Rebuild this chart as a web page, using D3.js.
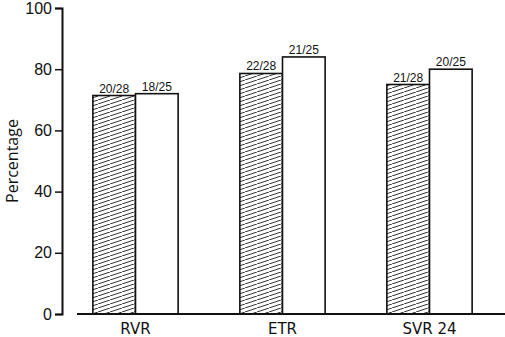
<!DOCTYPE html>
<html>
<head>
<meta charset="utf-8">
<script src="https://cdn.jsdelivr.net/npm/d3@7"></script>
<style>
  body { margin: 0; background: #fff; }
</style>
</head>
<body>
<div id="root"></div>
<script>
const categories = ["RVR", "ETR", "SVR 24"];
const groups = ["A", "B"];
const percentA = [71.4, 78.6, 75];
const percentB = [72, 84, 80];
const labelsA = ["20/28", "22/28", "21/28"];
const labelsB = ["18/25", "21/25", "20/25"];
const yTicks = [0, 20, 40, 60, 80, 100];

const width = 505, height = 337;

const svg = d3.select("#root").append("svg")
    .attr("width", width)
    .attr("height", height);

const defs = svg.append("defs");
const pat = defs.append("pattern")
    .attr("id", "hatch")
    .attr("patternUnits", "userSpaceOnUse")
    .attr("width", 12)
    .attr("height", 4);
pat.append("rect").attr("width", 12).attr("height", 4).attr("fill", "#fff");
pat.append("path")
    .attr("d", "M0,4 L12,0 M-12,4 L0,0 M12,4 L24,0")
    .attr("stroke", "#333")
    .attr("stroke-width", 1);

const x0 = d3.scaleBand().domain(categories).range([62, 503]).padding(0);
const x1 = d3.scaleBand().domain(groups)
    .range([x0.bandwidth() * 0.21, x0.bandwidth() * 0.79]).padding(0);
const y = d3.scaleLinear().domain([0, 100]).range([314, 8]);

const rows = categories.map((c, i) => ({
    cat: c,
    bars: [
        { g: "A", v: percentA[i], label: labelsA[i] },
        { g: "B", v: percentB[i], label: labelsB[i] }
    ]
}));

const cat = svg.selectAll(".cat")
    .data(rows)
    .enter().append("g")
    .attr("class", "cat")
    .attr("transform", d => `translate(${x0(d.cat)},0)`);

cat.selectAll("rect")
    .data(d => d.bars)
    .enter().append("rect")
    .attr("x", d => x1(d.g))
    .attr("y", d => y(d.v))
    .attr("width", x1.bandwidth())
    .attr("height", d => y(0) - y(d.v))
    .attr("fill", d => d.g === "A" ? "url(#hatch)" : "#fff")
    .attr("stroke", "#111")
    .attr("stroke-width", 1.6);

cat.selectAll("text")
    .data(d => d.bars)
    .enter().append("text")
    .attr("x", d => x1(d.g) + x1.bandwidth() / 2)
    .attr("y", d => y(d.v) - 3)
    .attr("text-anchor", "middle")
    .style("font-family", "Liberation Sans, Arial, sans-serif")
    .style("font-size", "12px")
    .style("fill", "#111")
    .text(d => d.label);

// x axis baseline
svg.append("line")
    .attr("x1", 77).attr("x2", 505)
    .attr("y1", y(0)).attr("y2", y(0))
    .attr("stroke", "#111")
    .attr("stroke-width", 2);

svg.selectAll(".xlab")
    .data(categories)
    .enter().append("text")
    .attr("class", "xlab")
    .attr("x", d => x0(d) + x0.bandwidth() / 2)
    .attr("y", 334)
    .attr("text-anchor", "middle")
    .style("font-family", "DejaVu Sans, Verdana, sans-serif")
    .style("font-size", "15px")
    .style("fill", "#111")
    .text(d => d);

// y axis
const yAxis = d3.axisLeft(y).tickValues(yTicks).tickSize(7).tickPadding(3);
const ya = svg.append("g")
    .attr("transform", "translate(62,0)")
    .call(yAxis);
ya.select(".domain").attr("stroke", "#111").attr("stroke-width", 2);
ya.selectAll(".tick line").attr("stroke", "#111").attr("stroke-width", 1.5);
ya.selectAll(".tick text")
    .style("font-family", "Liberation Sans, Arial, sans-serif")
    .style("font-size", "16px")
    .style("fill", "#111");

svg.append("text")
    .attr("transform", `translate(18,${(y(0) + y(100)) / 2}) rotate(-90)`)
    .attr("text-anchor", "middle")
    .style("font-family", "Open Sans, sans-serif")
    .style("font-size", "16px")
    .style("fill", "#111")
    .text("Percentage");
</script>
</body>
</html>
